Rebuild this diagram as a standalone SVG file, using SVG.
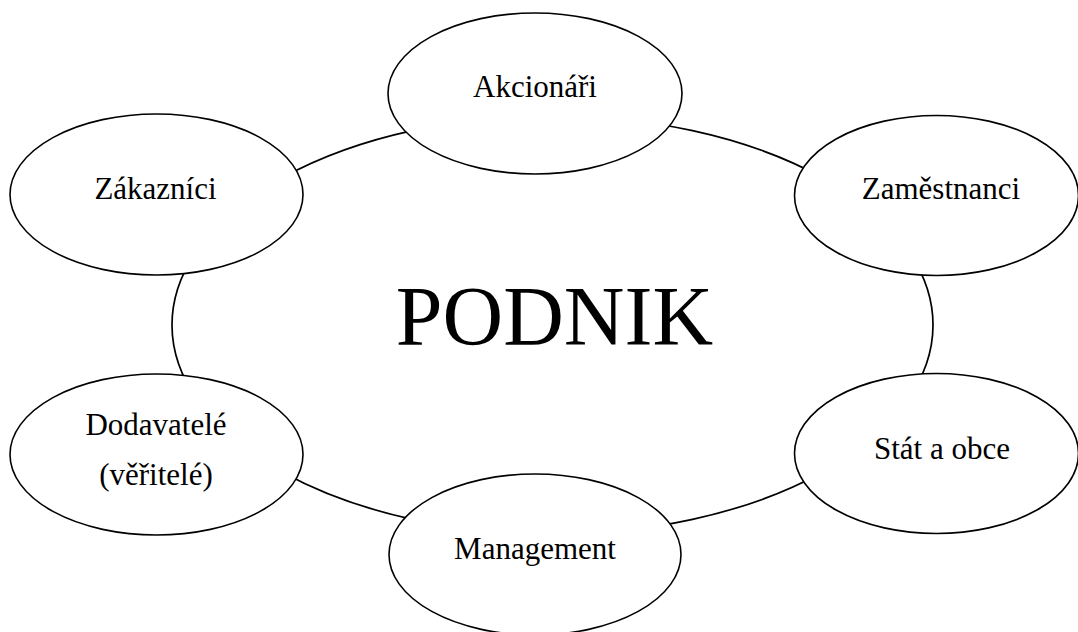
<svg xmlns="http://www.w3.org/2000/svg" width="1078" height="632" viewBox="0 0 1078 632">
<style>
.node{fill:#fff;stroke:#000;stroke-width:1.6}
.conn{fill:none;stroke:#000;stroke-width:1.7}
.lbl{font-family:"Liberation Serif","Times New Roman",serif;font-size:31px;fill:#000;text-anchor:middle}
.big{font-family:"Liberation Serif","Times New Roman",serif;font-size:84px;fill:#000;text-anchor:middle}
</style>
<rect width="1078" height="632" fill="#fff"/>
<g id="connectors">
<ellipse class="conn" cx="552.5" cy="325" rx="380.5" ry="209"/>
</g>
<g id="podnik">
<text class="big" x="554.5" y="345">PODNIK</text>
</g>
<g id="akcionari">
<ellipse class="node" cx="535" cy="93.5" rx="147" ry="80.5"/>
<text class="lbl" x="535" y="97">Akcionáři</text>
</g>
<g id="zakaznici">
<ellipse class="node" cx="156.5" cy="194.5" rx="146.5" ry="80.5"/>
<text class="lbl" x="155.5" y="198.5">Zákazníci</text>
</g>
<g id="zamestnanci">
<ellipse class="node" cx="936.5" cy="195.5" rx="142" ry="80"/>
<text class="lbl" x="941" y="199">Zaměstnanci</text>
</g>
<g id="dodavatele">
<ellipse class="node" cx="156.5" cy="454.5" rx="146.5" ry="80.5"/>
<text class="lbl" x="156" y="435">Dodavatelé</text>
<text class="lbl" x="156" y="485">(věřitelé)</text>
</g>
<g id="stat">
<ellipse class="node" cx="936.5" cy="453.5" rx="142" ry="80"/>
<text class="lbl" x="942" y="459">Stát a obce</text>
</g>
<g id="management">
<ellipse class="node" cx="535" cy="554.5" rx="146" ry="80.5"/>
<text class="lbl" x="535" y="559">Management</text>
</g>
</svg>
